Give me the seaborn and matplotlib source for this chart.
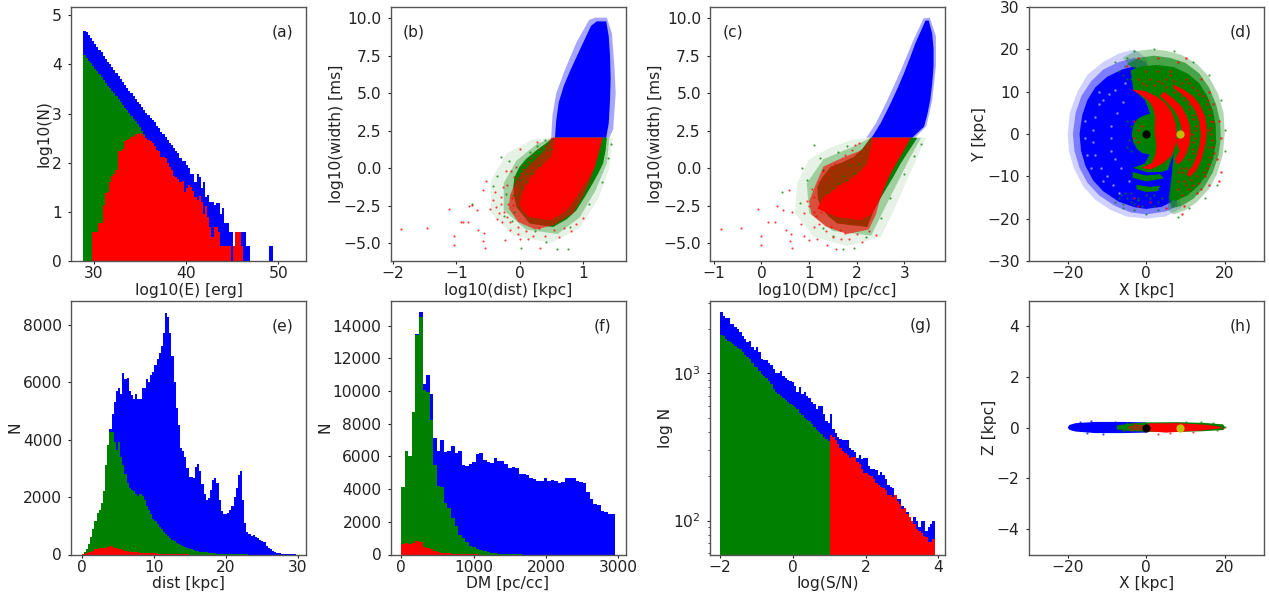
import numpy as np
import matplotlib
matplotlib.use("Agg")
import matplotlib.pyplot as plt
import seaborn as sns

# ---- histogram values ----
# (a) log10(N) per bin, 28.9 upward in 0.231 steps
a_blue = [4.69, 4.66, 4.60, 4.53, 4.48, 4.42, 4.36, 4.30, 4.25, 4.18,
          4.12, 4.06, 4.00, 3.94, 3.88, 3.82, 3.77, 3.70, 3.65, 3.59,
          3.52, 3.47, 3.41, 3.36, 3.30, 3.24, 3.20, 3.13, 3.08, 3.02,
          2.97, 2.91, 2.86, 2.82, 2.75, 2.70, 2.63, 2.58, 2.53, 2.47,
          2.41, 2.36, 2.30, 2.24, 2.19, 2.09, 2.03, 2.03, 1.95, 1.90,
          1.78, 1.78, 1.60, 1.78, 1.70, 1.48, 1.60, 1.30, 1.34, 1.20,
          1.20, 1.15, 1.18, 1.18, 0.95, 1.08, 0.78, 0.78, 0.60, 0.60,
          0.30, 0.60, 0.60, 0.48, 0.60, 0.60, 0.30, 0.30, 0, 0,
          0, 0, 0, 0, 0, 0, 0, 0.30, 0.30]
a_green = [4.19, 4.14, 4.08, 4.02, 3.97, 3.91, 3.86, 3.80, 3.75, 3.69,
           3.63, 3.57, 3.52, 3.46, 3.41, 3.35, 3.29, 3.24, 3.18, 3.12,
           3.07, 3.01, 2.95, 2.90, 2.84, 2.78, 2.72, 2.65, 2.58]
a_red = [0, 0, 0, 0, 0.60, 0.60, 0.60, 0.78, 0.78, 1.15,
         1.38, 1.40, 1.60, 1.72, 1.78, 1.85, 2.24, 2.24, 2.27, 2.45,
         2.47, 2.48, 2.52, 2.55, 2.58, 2.58, 2.60, 2.58, 2.55, 2.50,
         2.46, 2.44, 2.40, 2.35, 2.25, 2.24, 2.12, 2.12, 2.10, 2.00,
         1.92, 1.85, 1.72, 1.70, 1.66, 1.60, 1.62, 1.41, 1.48, 1.54,
         1.50, 1.43, 1.30, 1.24, 1.32, 1.20, 0.95, 1.11, 0.90, 0.69,
         0.49, 0.70, 0.69, 0.60, 0.30, 0.30, 0.30, 0.30, 0.30, 0,
         0.30, 0.60, 0.60, 0.60, 0.30]

# (e) N per bin, 0 upward in 0.297 steps
e_blue = [30, 100, 200, 350, 600, 900, 1150, 1450, 1550, 1800,
          2200, 3100, 3800, 4350, 4900, 5300, 5700, 5800, 5600, 6300,
          6100, 6150, 5700, 5550, 5400, 5600, 5400, 5400, 5800, 5800,
          6100, 6000, 6250, 6350, 6600, 6800, 7000, 7250, 7700, 8400,
          8250, 7700, 6900, 6000, 5100, 4500, 3700, 3600, 3400, 3000,
          2700, 2700, 2650, 3050, 3150, 2900, 2450, 2100, 1900, 1950,
          2250, 2600, 2650, 2500, 1900, 1500, 1400, 1400, 1450, 1550,
          1700, 2000, 2300, 2750, 2900, 1900, 1100, 800, 700, 650,
          680, 620, 580, 520, 470, 420, 310, 240, 190, 120,
          85, 60, 35, 25, 20, 10, 8, 5, 2, 3]
e_green = [30, 100, 200, 350, 600, 900, 1150, 1450, 1550, 1800,
           2200, 3100, 3800, 4250, 4250, 3900, 3650, 3900, 3400, 3100,
           2800, 2500, 2300, 2250, 2200, 2100, 2050, 2100, 2050, 1900,
           1700, 1550, 1400, 1250, 1150, 1050, 950, 880, 800, 720,
           640, 580, 520, 460, 410, 360, 320, 290, 260, 230,
           200, 180, 155, 130, 115, 100, 90, 80, 70, 60,
           52, 45, 38, 32, 28, 22, 18, 15, 12, 10,
           8, 6, 5, 4, 3, 2, 2, 1]
e_red = [5, 20, 40, 70, 100, 130, 180, 200, 210, 220,
         220, 230, 270, 280, 260, 230, 210, 200, 190, 170,
         130, 110, 100, 90, 80, 75, 70, 65, 60, 55,
         50, 45, 40, 35, 35, 30, 28, 25, 20, 18,
         15, 15, 12, 12, 10, 10, 8, 6, 5, 4]

# (f) N per bin, 0 upward in 49.2 steps
f_blue = [4100, 6300, 6000, 8700, 13500, 14800, 10400, 10950, 9800, 7150,
          6300, 7000, 6250, 6300, 6650, 6200, 6300, 5500, 5400, 5550,
          5650, 6150, 6200, 5800, 5650, 5600, 5900, 5700, 5700, 5550,
          5300, 5350, 5300, 4900, 4950, 4850, 4650, 4600, 4500, 4500,
          4650, 4500, 4550, 4500, 4400, 4450, 4650, 4650, 4700, 4500,
          4450, 4400, 3800, 3400, 3100, 3000, 2650, 2600, 2450, 2450]
f_green = [4100, 6300, 6000, 8700, 13400, 14500, 10050, 9950, 8200, 5500,
           4200, 4100, 3150, 2850, 2250, 1750, 1200, 1000, 750, 550,
           450, 350, 250, 200, 150, 100, 70, 50, 30, 20,
           15, 10, 8, 5]
f_red = [650, 720, 650, 700, 850, 750, 450, 420, 350, 200,
         130, 110, 90, 80, 60, 50, 40, 30, 25, 20, 15, 10]

# (g) N per bin, -2 upward in 0.0656 steps
g_blue = [2580, 2450, 2350, 2350, 2150, 2150, 2050, 1980, 1900, 1800,
          1700, 1620, 1650, 1500, 1430, 1500, 1400, 1250, 1230, 1230,
          1180, 1130, 1060, 1000, 1010, 1040, 950, 930, 900, 880,
          870, 820, 750, 800, 720, 740, 700, 680, 640, 620,
          570, 600, 600, 530, 470, 460, 525, 420, 395, 370,
          355, 350, 350, 350, 310, 300, 290, 265, 280, 260,
          265, 265, 235, 225, 225, 220, 205, 215, 205, 190,
          175, 170, 165, 150, 140, 140, 125, 120, 115, 105,
          100, 105, 100, 90, 100, 100, 85, 90, 95, 100]
g_green = [1810, 1780, 1700, 1650, 1620, 1580, 1530, 1480, 1460, 1400,
           1330, 1280, 1240, 1180, 1100, 1100, 1040, 990, 950, 920,
           880, 840, 780, 750, 720, 700, 680, 660, 640, 620,
           610, 590, 570, 540, 520, 500, 480, 470, 450, 430,
           410, 400, 385, 370, 355, 345, 340]
g_red = [0] * 46 + [380, 370, 350, 330, 310, 295, 285, 280, 265, 270,
                    270, 250, 240, 225, 210, 210, 205, 200, 190, 180,
                    175, 170, 165, 160, 150, 148, 145, 150, 135, 130,
                    120, 122, 110, 105, 100, 95, 88, 85, 82, 78,
                    77, 72, 72, 75]

# ---- dense clouds: outlines, data coordinates ----
b_blue_soft = [(0.5, 2.03), (0.52, 3.5), (0.58, 5), (0.72, 6.6), (0.9, 8.4), (1.1, 9.9), (1.2, 10.05),
               (1.38, 10.05), (1.46, 9), (1.5, 6.8), (1.52, 5), (1.48, 2.6), (1.42, 2.03)]
b_blue = [(0.56, 2.03), (0.58, 3.2), (0.62, 4.4), (0.7, 5.5), (0.8, 6.5), (0.92, 7.6), (1.03, 8.6),
          (1.13, 9.5), (1.22, 9.8), (1.37, 9.8), (1.41, 8.8), (1.43, 7.5), (1.44, 6), (1.43, 4.5),
          (1.41, 3), (1.37, 2.03)]
b_green_far = [(0.53, 2.03), (0.2, 1.9), (-0.2, 1.0), (-0.45, -0.8), (-0.45, -3.0), (-0.1, -4.5),
               (0.5, -5.0), (0.95, -4.0), (1.25, -2), (1.42, 0), (1.47, 2.03)]
b_green_pale = [(0.53, 2.03), (0.27, 1.6), (-0.05, 0.5), (-0.25, -1.0), (-0.25, -2.8), (0.1, -4.1),
                (0.6, -4.4), (0.95, -3.3), (1.2, -1.5), (1.38, 0.3), (1.42, 2.03)]
b_green = [(0.53, 2.03), (0.4, 1.6), (0.27, 1.2), (0.1, 0.6), (0.0, 0.09), (-0.08, -0.6), (-0.1, -1.25),
           (-0.08, -2), (-0.05, -2.59), (0.16, -3.7), (0.53, -3.93), (0.75, -3.4), (0.9, -2.81),
           (1.05, -1.8), (1.16, -1.0), (1.25, -0.3), (1.32, 0.31), (1.36, 1.2), (1.38, 2.03)]
b_red_soft = [(0.5, 2.03), (0.4, 1.2), (0.15, 0.2), (-0.05, -0.8), (-0.15, -1.8), (-0.17, -2.7), (-0.02, -3.6),
              (0.25, -4.1), (0.55, -3.8), (0.85, -3.0), (1.0, -1.9), (1.1, -1), (1.19, 0.09), (1.31, 2.03)]
b_red = [(0.56, 2.03), (0.53, 1.3), (0.5, 0.76), (0.38, 0.3), (0.27, -0.13), (0.18, -0.6), (0.11, -1.03),
         (0.04, -1.7), (0.0, -2.37), (0.06, -2.9), (0.16, -3.26), (0.48, -3.48), (0.65, -3.1), (0.79, -2.59),
         (0.9, -1.9), (1.0, -1.25), (1.1, -0.6), (1.19, 0.09), (1.25, 1), (1.31, 2.03)]

c_blue_soft = [(2.2, 2.03), (2.4, 3), (2.62, 4.4), (2.92, 6.5), (3.18, 8.5), (3.4, 10), (3.53, 10.05),
               (3.66, 8.8), (3.66, 6.8), (3.58, 4.5), (3.46, 2.8), (3.22, 2.03)]
c_blue = [(2.31, 2.03), (2.5, 3.0), (2.71, 4.33), (2.85, 5.3), (2.99, 6.34), (3.12, 7.4), (3.23, 8.35),
          (3.35, 9.2), (3.44, 9.85), (3.51, 9.85), (3.58, 9.0), (3.61, 8), (3.61, 6.8), (3.58, 5.6),
          (3.54, 4.55), (3.48, 3.6), (3.41, 2.77), (3.16, 2.03)]
c_green_far = [(2.29, 2.03), (1.9, 1.9), (1.4, 1.3), (1.0, 0.6), (0.75, -1), (0.7, -3), (1.1, -4.6),
               (1.8, -5.2), (2.5, -4.6), (2.75, -3), (3.0, -1.2), (3.25, 0.6), (3.45, 2.03)]
c_green_pale = [(2.29, 2.03), (1.9, 1.4), (1.3, 0.6), (0.95, -1.0), (1.0, -3.0), (1.5, -4.2),
                (2.3, -4.5), (2.55, -2.9), (2.85, -1.0), (3.1, 0.6), (3.35, 2.03)]
c_green = [(2.29, 2.03), (2.12, 1.3), (1.94, 0.76), (1.7, 0.4), (1.45, 0.09), (1.28, -0.6), (1.17, -1.25),
           (1.18, -2), (1.24, -2.59), (1.4, -3.2), (1.59, -3.7), (2.22, -3.93), (2.36, -2.81), (2.5, -2),
           (2.64, -1.25), (2.78, -0.5), (2.92, 0.31), (3.1, 1.2), (3.27, 2.03)]
c_red_soft = [(2.3, 2.03), (2.1, 1.2), (1.7, 0.7), (1.3, 0.1), (1.15, -1), (1.0, -2.2), (1.05, -3.1),
              (1.35, -3.9), (1.8, -4.4), (2.25, -4.1), (2.4, -3.1), (2.5, -1.92), (2.71, -0.36),
              (2.99, 1.2), (3.13, 2.03)]
c_red = [(2.34, 2.03), (2.28, 1.1), (2.22, 0.31), (2.08, -0.2), (1.94, -0.58), (1.59, -1.25), (1.31, -1.92),
         (1.17, -2.7), (1.59, -3.26), (2.08, -3.48), (2.32, -3.04), (2.5, -1.92), (2.6, -1.1),
         (2.71, -0.36), (2.85, 0.45), (2.99, 1.2), (3.13, 2.03)]

d_blue_far = [(-3, 20), (-7, 19), (-11, 17), (-15, 14), (-17.5, 10), (-19.5, 5), (-20, 0), (-19.7, -4),
              (-18.5, -8), (-16, -12.5), (-13, -15.5), (-9, -18), (-5, -19.5), (0, -20), (5, -19.5),
              (9, -17.5), (7, -10), (5, 0), (0, 18)]
d_blue_pale = [(-3, 18), (-7, 17), (-11, 15.2), (-14, 12.5), (-16.5, 9), (-18, 5), (-18.7, 0), (-18.3, -4),
               (-17, -8), (-15, -11.5), (-12, -14.5), (-8, -17), (-4, -18.5), (0, -19), (5, -18.3),
               (8, -17), (6, -8), (5, 0), (0, 17)]
d_blue = [(-3, 16), (-6, 15.3), (-10, 13.5), (-13, 11), (-15, 8), (-16.3, 4.5), (-17, 0), (-16.6, -4),
          (-15.5, -7.5), (-13.5, -11), (-11, -13.5), (-7, -16), (-3, -17.3), (0, -17.7), (4, -17.2),
          (6.5, -16), (7.5, -6), (5, 5), (0, 14)]
d_green_far = [(-6, 18), (-3, 19.5), (1, 20), (5, 19.7), (9, 18.7), (13, 16.5), (16, 13.5), (18.3, 9.5),
               (19.7, 5), (20, 0), (19.5, -5), (18, -9.5), (16, -13), (13, -16), (10, -18), (7, -19),
               (5.5, -18), (5.7, -15), (6.5, -10), (7, -4.5), (8, 0), (6, 8), (0, 14), (-4, 16)]
d_green_pale = [(-5, 16.5), (-2, 18), (2, 18.5), (6, 18), (10, 16.8), (13.5, 14.3), (16, 11), (17.8, 7),
                (18.8, 3), (19, -1), (18.4, -5), (17, -9), (14.8, -12.5), (12, -15.3), (9, -17),
                (6.5, -17.5), (5.7, -15), (6.5, -10), (7, -4.5), (8, 0), (6, 8), (0, 14)]
d_green = [(-4, 15), (-1, 16), (3, 16.3), (7, 15.8), (10.5, 14.3), (13.5, 12), (15.5, 9), (17, 5.5),
           (17.7, 2), (17.8, -2), (17, -6), (15.5, -9.5), (13, -12.5), (10.5, -14.5), (7.5, -15.8),
           (6, -15.5), (6.5, -10), (7, -4.5), (5.5, -8.5), (3.6, -9), (0, -9), (-3.3, -8), (-0.3, -6.9),
           (1, -4.5), (1.4, 0), (0.9, 5), (-0.3, 8), (-3.3, 10.5)]
d_green_blob = [(-3.7, 0), (-3.3, 2), (-2.3, 3.5), (-1, 4.2), (1.5, 5), (1.5, -5), (-1, -4.5), (-2.3, -3.6),
                (-3.3, -2)]
d_green_arc1 = [(-3.5, -9), (0, -9.8), (3.5, -9.5), (4.5, -10.5), (0, -11.2), (-3.5, -10.3)]
d_green_arc2 = [(-2.5, -12), (1, -12.5), (3.5, -12.2), (3, -13.5), (0, -13.7), (-2.5, -13)]
d_red_core = [(-3.7, 10.5), (-0.5, 10.2), (2.6, 8.9), (5, 7.2), (6.6, 5), (7.5, 2.5), (7.8, 0), (7.5, -2.5),
              (6.6, -5), (4.3, -6.9), (2, -8), (0.9, -8.4), (-1.2, -8), (1.4, -6.9), (2.3, -5), (2.6, -3),
              (2.4, -1), (2.2, 0), (2.2, 2.2), (2.3, 4.2), (1.8, 6), (1, 7.4), (-0.5, 8.7), (-1.6, 9.3)]
d_red_arc2 = [(4.5, 10), (7, 8.3), (9, 6.5), (10.3, 4.3), (11.1, 2), (11.3, 0), (11, -2.5), (10.2, -4.7),
              (9, -6.5), (8, -7.3), (7.3, -6), (8.5, -4), (7.5, -1.5), (9, 0), (8.8, 2), (8, 4.2), (6.8, 6),
              (5, 7.7), (3.5, 9)]
d_red_arc3 = [(6.9, 11.7), (9.5, 10.5), (12, 8.9), (13.7, 6.8), (15, 4.2), (15.5, 1), (15.2, -2), (14.1, -6),
              (12.8, -8.5), (11.1, -10.2), (10.3, -9.6), (11.8, -7.5), (12.8, -5.3), (13.6, -2.5), (13.9, 0),
              (13.5, 3), (12.5, 5.5), (10.3, 8.5), (8.5, 9.8), (6.9, 10.9)]

h_blue = [(-20, 0), (-19.6, 0.1), (-18, 0.17), (-13, 0.22), (-6, 0.22), (0, 0.2), (0, -0.2), (-6, -0.22),
          (-13, -0.22), (-18, -0.16), (-19.6, -0.09)]
h_green = [(-7.5, 0.08), (-4, 0.16), (0, 0.2), (8, 0.21), (15, 0.18), (19.6, 0.12), (20.1, 0), (19.6, -0.1),
           (14, -0.15), (5, -0.18), (-4, -0.15), (-7.5, -0.08)]
h_red_left = [(-4.5, 0.05), (-2, 0.12), (0, 0.08), (0, -0.12), (-2, -0.12), (-4.5, -0.06)]
h_red = [(0.5, 0.16), (8, 0.17), (15, 0.11), (19, 0.03), (19, -0.03), (14, -0.12), (5, -0.2), (0.5, -0.15)]

# ---- single points that stand apart from the clouds ----
b_red_pts = [(-1.88, -4.08), (-1.47, -3.97), (-1.12, -2.75), (-1.04, -4.55), (-1.04, -5.16), (-0.92, -3.6),
             (-0.89, -3.6), (-0.81, -3.6), (-0.8, -2.55), (-0.75, -2.48), (-0.68, -2.77), (-0.65, -4.1),
             (-0.58, -1.47), (-0.56, -4.3), (-0.58, -4.87), (-0.55, -5.3), (-0.53, -0.87), (-0.47, -2.7),
             (-0.39, -1.58), (-0.23, -4.8), (-0.15, -4.15), (-0.02, -4.37), (0.0, -4.7), (0.32, -5.3),
             (0.13, -4.7), (0.0, 1.3), (0.27, 1.76), (-0.05, 0.09), (-0.26, -1.25), (-0.18, -2.37),
             (-0.1, -2.48), (-0.37, -2.6), (-0.2, -3.26), (-0.12, -2.0), (-0.05, -1.4), (-0.08, -0.6),
             (0.02, -0.3), (0.07, 0.2), (-0.15, -3.6), (-0.02, -3.9), (0.1, -4.2), (0.22, -4.5),
             (0.4, -4.5), (0.62, -4.6), (0.82, -4.2), (1.0, -3.35), (0.9, -3.7), (0.17, 0.65),
             (0.33, 1.25), (-0.22, -0.2), (-0.3, -1.9), (-0.33, -3.0), (-0.28, -3.6), (-0.42, -2.1),
             (-0.3, -2.4), (-0.35, -3.4), (-0.25, -2.9), (-0.2, -1.1), (-0.13, -0.2), (0.05, -0.05),
             (0.15, 0.4), (0.25, 0.9), (0.4, 1.5), (0.45, 1.0), (0.7, -4.0), (0.55, -4.1), (0.3, -4.0)]
b_green_pts = [(-0.75, -2.4), (-0.35, -0.5), (-0.17, 0.45), (-0.3, 0.75), (-0.42, -1.2), (-0.25, -3.2),
               (-0.12, -3.5), (0.02, -5.35), (0.6, -5.4), (0.76, -5.4), (0.42, -4.9), (0.16, 1.05),
               (0.28, 1.45), (0.4, 1.9), (0.5, 1.3), (0.1, -0.4), (0.0, -0.8), (1.1, -2.4), (1.3, -0.9),
               (1.4, 0.7), (1.45, 1.6), (-0.22, -1.7), (-0.08, -2.9), (0.05, 0.3), (0.2, 0.5), (0.12, -0.9),
               (0.04, -1.3), (0.2, -0.3), (0.3, 0.2), (-0.1, -1.8), (0.25, -4.2), (0.8, -3.9)]
c_red_pts = [(-0.85, -4.08), (-0.43, -3.97), (-0.08, -2.75), (0.0, -4.55), (0.0, -5.16), (0.14, -3.6),
             (0.29, -3.6), (0.32, -2.55), (0.46, -2.8), (0.58, -1.47), (0.51, -4.1), (0.61, -4.4),
             (0.59, -4.87), (0.63, -5.3), (0.63, -2.92), (0.82, -3.7), (0.89, -4.55), (1.0, -4.8),
             (1.1, -3.9), (1.17, -4.7), (1.38, -5.15), (1.56, -5.38), (1.66, -4.7), (1.83, -4.7),
             (2.11, -4.9), (2.41, -4.44), (1.1, -1.9), (1.0, -2.5), (0.9, -3.0), (1.2, -3.7),
             (1.35, -4.2), (1.75, -4.3), (2.0, -4.4), (2.25, -4.2), (1.4, -0.4), (1.55, 0.3),
             (1.75, 0.9), (1.97, 1.55), (1.9, 0.5), (1.2, -0.9), (1.05, -1.4), (0.95, -2.2), (1.5, -4.6),
             (1.15, -3.2), (1.25, -2.9), (1.1, -2.9), (1.45, -3.9), (1.65, -4.1), (1.9, 1.2), (2.05, 1.7),
             (1.3, -0.2), (1.5, 0.0), (1.35, -0.7)]
c_green_pts = [(0.42, -1.6), (0.85, 0.0), (1.1, 1.55), (1.22, 0.65), (1.3, -0.1), (1.6, 1.1), (1.8, 1.5),
               (0.95, -0.8), (0.8, -2.3), (1.7, -5.4), (1.95, -5.35), (2.2, -4.6), (2.5, -3.3),
               (2.7, -2.0), (3.0, -0.4), (3.2, 0.8), (3.35, 1.6), (1.3, -4.0), (1.5, -4.5), (1.6, -1.0),
               (1.8, -0.8), (1.7, -0.5), (1.5, -1.3), (1.4, -1.6), (1.95, -0.3), (1.85, 0.2), (2.05, 0.3)]
d_red_pts = [(3, 18), (8, 17), (10, 18), (14, 13), (16, 10), (17, 7), (18.5, 3), (19, -1), (18, -6),
             (19, -9), (18.5, -11), (16, -12), (16, -7), (17, -3), (16.5, 3), (16, 6), (13, -14), (9.5, -17),
             (9, -19), (5, -17.5), (1, -16), (-2, -17), (-3, -15), (-5, 16), (-2, 18), (0, 15), (6, 14),
             (10, 13), (12, 11), (-3, 3), (-2, -2), (-3, -1), (-1, 2), (-2, 1), (15.5, -8), (12, -12),
             (8, -13), (10, -12), (9, 12), (4, 12), (16.5, 0), (16, -3), (16.8, -1.5), (16.6, 1.5), (16.2, 4.5),
             (15.5, 7), (14.5, 9), (13, 10.5), (15, -10), (13.5, -11.5), (11, -13), (9, -14.5), (8, -11),
             (9, -9), (11, -6), (12, -2), (12.5, 1), (12, 3.5), (11, 6), (9.5, 8), (12, -3.5), (11.7, 0),
             (7, 12.5), (5, 13), (2, 11.5), (1, 13), (-1, 12), (-2, 13), (17.3, -4.5), (17, 2.8), (16.3, -5.5),
             (15.8, 8), (14.7, -9), (13, -10), (11.5, -10.8), (9.5, -11), (8, -9), (8.8, -8), (10, -8),
             (11, -8.5), (12, -4.5), (12.3, -1), (12.7, 2), (11.8, 4.5), (10.7, 7), (8.8, 9), (7, 10),
             (5, 11), (3, 12.5), (0, 11.5), (11, 12), (13.5, 9.5), (6, 15), (3, 15), (16, 1), (14, -13)]
d_green_pts = [(-5, 18), (-8, 17), (-3, 19.5), (2, 20), (7, 19.5), (12, 17), (16, 14), (19, 8), (20, 1),
               (20, -4), (18, -12), (15, -15), (11, -17.5), (8, -19.5), (3, -18), (0, -19), (-3, -18), (-6, -16.5),
               (-7, -15), (1, -15), (3, -16), (-2, -15), (-4, -16), (-1, -17), (2, -17), (4, -15),
               (-6, 14), (-5, 13), (-7, 15), (-4, 13), (-5.5, 16), (-2, -15.5), (-5, -15), (-4, -14),
               (-5, 3), (-4.5, -1.5), (-4, 2), (-5, -3), (-4, -4), (-6.5, -14.5), (-5.5, -14), (0, -14.5),
               (2, -14.5), (-3, -16.5), (-8, -16), (-6, -17.5)]
d_gap_pts = [(-12, 7), (-13, 4), (-13.5, 1), (-13.5, -2), (-13, -5), (-11.5, -8), (-10, -10), (-8.5, -12),
             (-11, 8), (-9.5, 9.5), (-8, 10.5), (-5.5, 12), (-9, 2), (-9, -1), (-9, -4), (-8, -6), (-6.5, -8),
             (-7.5, 5), (-6, 7.5), (-15.5, -1), (-15.5, 3), (-15, -5), (-14, -8), (-11, -11), (-7, -14),
             (-4.5, -11), (-12, 10)]
h_blue_pts = [(-19.5, 0.03), (-19, -0.05), (-17, 0.2), (-14, 0.25), (-11, -0.24), (-8, 0.22), (-15, -0.2)]
h_green_pts = [(20, 0.02), (19, 0.1), (17, 0.17), (14, 0.22), (10, 0.22), (-5, 0.17), (-6, -0.13), (18, -0.1)]
h_red_pts = [(12, -0.19), (6, -0.22), (3, -0.24), (19.5, 0.0), (-3, 0.14), (-4, -0.1)]

gc_xy = (0, 0)
sun_xy = (8.5, 0)

BLUE, GREEN, RED = "blue", "green", "red"

sns.set_style("ticks")
plt.rcParams.update({"font.size": 11.2, "axes.labelsize": 11.2, "xtick.labelsize": 11.2,
                     "ytick.labelsize": 11.2, "text.color": "#222222", "axes.labelcolor": "#222222",
                     "xtick.color": "#222222", "ytick.color": "#222222", "axes.edgecolor": "#555555",
                     "axes.linewidth": 1.0, "xtick.major.size": 2.2, "ytick.major.size": 2.2,
                     "xtick.major.pad": 1.5, "ytick.major.pad": 4.3,
                     "xtick.major.width": 0.8, "ytick.major.width": 0.8,
                     "ytick.minor.size": 1.5, "ytick.minor.width": 0.6})

W, H = 1269, 595
fig = plt.figure(figsize=(W / 100, H / 100), dpi=100)


def panel(x0, x1, y0, y1):
    return fig.add_axes([x0 / W, 1 - y1 / H, (x1 - x0) / W, (y1 - y0) / H])


def hist(ax, start, step, values, color):
    edges = start + step * np.arange(len(values) + 1)
    sns.histplot(x=edges[:-1] + step / 2, weights=values, bins=list(edges), color=color,
                 alpha=1, linewidth=0, element="step", ax=ax)


def pts(ax, points, color, s=2.4):
    xy = np.array(points)
    sns.scatterplot(x=xy[:, 0], y=xy[:, 1], color=color, s=s, linewidth=0, alpha=0.75, ax=ax)


def finish(ax, tag, tag_x, xlabel, ylabel, xlim, ylim):
    ax.set_xlim(xlim)
    ax.set_ylim(ylim)
    ax.set_xlabel(xlabel, labelpad=1)
    ax.set_ylabel(ylabel, labelpad=0)
    ax.text(tag_x, 0.9, tag, transform=ax.transAxes, ha="center", va="center")


ax_a = panel(71, 306, 7, 261)
ax_b = panel(390.5, 625.5, 7, 261)
ax_c = panel(710, 945, 7, 261)
ax_d = panel(1028.5, 1264, 7, 261)
ax_e = panel(71, 306, 300.5, 554.5)
ax_f = panel(390.5, 625.5, 300.5, 554.5)
ax_g = panel(710, 944.5, 300.5, 554.5)
ax_h = panel(1028.5, 1264, 300.5, 554.5)

hist(ax_a, 28.9, 0.231, a_blue, BLUE)
hist(ax_a, 28.9, 0.231, a_green, GREEN)
hist(ax_a, 28.9, 0.231, a_red, RED)
finish(ax_a, "(a)", 0.898, "log10(E) [erg]", "log10(N)", (27.55, 53), (0, 5.17))
ax_a.set_yticks([0, 1, 2, 3, 4, 5])
ax_a.set_xticks([30, 40, 50])

for ax, layers, red_p, green_p in [
        (ax_b, (b_blue_soft, b_blue, b_green_far, b_green_pale, b_green, b_red_soft, b_red), b_red_pts, b_green_pts),
        (ax_c, (c_blue_soft, c_blue, c_green_far, c_green_pale, c_green, c_red_soft, c_red), c_red_pts, c_green_pts)]:
    blue_s, blue, far, pale, green, red_s, red = layers
    ax.fill(*zip(*blue_s), color=BLUE, alpha=0.35, lw=0)
    ax.fill(*zip(*blue), color=BLUE, lw=0)
    ax.fill(*zip(*far), color=GREEN, alpha=0.1, lw=0)
    ax.fill(*zip(*pale), color=GREEN, alpha=0.3, lw=0)
    ax.fill(*zip(*green), color=GREEN, lw=0)
    ax.fill(*zip(*red_s), color=RED, alpha=0.62, lw=0)
    ax.fill(*zip(*red), color=RED, lw=0)
    pts(ax, green_p, GREEN)
    pts(ax, red_p, RED)
finish(ax_b, "(b)", 0.098, "log10(dist) [kpc]", "log10(width) [ms]", (-2.04, 1.675), (-6.2, 10.76))
finish(ax_c, "(c)", 0.098, "log10(DM) [pc/cc]", "log10(width) [ms]", (-1.08, 3.85), (-6.2, 10.76))
ax_b.set_xticks([-2, -1, 0, 1])
ax_c.set_xticks([-1, 0, 1, 2, 3])
for ax in (ax_b, ax_c):
    ax.set_yticks([-5, -2.5, 0, 2.5, 5, 7.5, 10])
    ax.set_yticklabels(["\u22125.0", "\u22122.5", "0.0", "2.5", "5.0", "7.5", "10.0"])

ax_d.fill(*zip(*d_blue_far), color=BLUE, alpha=0.18, lw=0)
ax_d.fill(*zip(*d_blue_pale), color=BLUE, alpha=0.4, lw=0)
ax_d.fill(*zip(*d_blue), color=BLUE, lw=0)
pts(ax_d, d_gap_pts, "#b8b8ff", s=3)
ax_d.fill(*zip(*d_green_far), color=GREEN, alpha=0.3, lw=0)
ax_d.fill(*zip(*d_green_pale), color=GREEN, alpha=0.6, lw=0)
for poly in (d_green, d_green_blob, d_green_arc1, d_green_arc2):
    ax_d.fill(*zip(*poly), color=GREEN, lw=0)
for poly in (d_red_core, d_red_arc2, d_red_arc3):
    ax_d.fill(*zip(*poly), color=RED, lw=0)
pts(ax_d, d_green_pts, GREEN)
pts(ax_d, d_red_pts, RED, s=3.2)
ax_d.scatter(*gc_xy, s=24, color="black", zorder=5)
ax_d.scatter(*sun_xy, s=24, color="y", zorder=5)
finish(ax_d, "(d)", 0.9, "X [kpc]", "Y [kpc]", (-30, 30), (-30, 30))
ax_d.set_xticks([-20, 0, 20])

hist(ax_e, 0, 0.297, e_blue, BLUE)
hist(ax_e, 0, 0.297, e_green, GREEN)
hist(ax_e, 0, 0.297, e_red, RED)
finish(ax_e, "(e)", 0.898, "dist [kpc]", "N", (-1.48, 31.15), (0, 8835))
ax_e.set_xticks([0, 10, 20, 30])
ax_e.set_yticks([0, 2000, 4000, 6000, 8000])

hist(ax_f, 0, 49.2, f_blue, BLUE)
hist(ax_f, 0, 49.2, f_green, GREEN)
hist(ax_f, 0, 49.2, f_red, RED)
finish(ax_f, "(f)", 0.9, "DM [pc/cc]", "N", (-147, 3100), (0, 15530))
ax_f.set_xticks([0, 1000, 2000, 3000])
ax_f.set_yticks(range(0, 15000, 2000))

hist(ax_g, -2, 0.0656, g_blue, BLUE)
hist(ax_g, -2, 0.0656, g_green, GREEN)
hist(ax_g, -2, 0.0656, g_red, RED)
ax_g.set_yscale("log")
finish(ax_g, "(g)", 0.898, "log(S/N)", "log N", (-2.28, 4.17), (58.8, 3112))
ax_g.set_xticks([-2, 0, 2, 4])

ax_h.fill(*zip(*h_blue), color=BLUE, lw=0)
ax_h.fill(*zip(*h_green), color=GREEN, lw=0)
ax_h.fill(*zip(*h_red_left), color=RED, alpha=0.55, lw=0)
ax_h.fill(*zip(*h_red), color=RED, lw=0)
pts(ax_h, h_blue_pts, BLUE)
pts(ax_h, h_green_pts, GREEN)
pts(ax_h, h_red_pts, RED)
ax_h.scatter(*gc_xy, s=24, color="black", zorder=5)
ax_h.scatter(*sun_xy, s=24, color="y", zorder=5)
finish(ax_h, "(h)", 0.9, "X [kpc]", "Z [kpc]", (-30, 30), (-5, 5))
ax_h.set_xticks([-20, 0, 20])
ax_h.set_yticks([-4, -2, 0, 2, 4])

fig.savefig("out.png", dpi=100)
